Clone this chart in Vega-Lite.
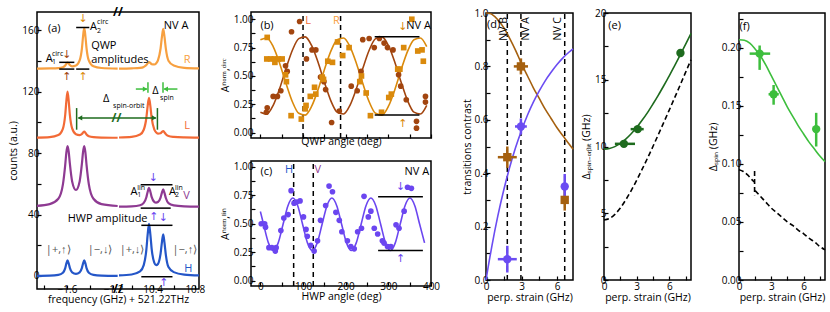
{
"$schema": "https://vega.github.io/schema/vega-lite/v6.json",
"padding": {"left": 8, "top": 5, "right": 2, "bottom": 0},
"spacing": 21,
"resolve": {"scale": {"color": "independent", "shape": "independent"}},
"config": {
 "font": "Open Sans",
 "view": {"stroke": "#000", "strokeWidth": 1.5},
 "axis": {"domain": false, "grid": false, "tickColor": "#000", "tickSize": -4, "tickWidth": 1.2, "labelFontSize": 10, "labelColor": "#000", "titleFontSize": 10.5, "titleFontWeight": "normal", "titleColor": "#000", "labelOverlap": false, "labelFlush": false, "labelFont": "Open Sans", "titleFont": "Open Sans"},
 "axisX": {"labelPadding": -1, "titlePadding": 1},
 "axisY": {"labelPadding": 2, "titlePadding": 3},
 "text": {"font": "Open Sans"}
},
"datasets": {
 "a_spec": [
  {"g":1,"x":-1.86,"R":135.1,"L":90.19,"V":45.7,"H":0.08},
  {"g":1,"x":-1.75,"R":135.2,"L":90.49,"V":46.8,"H":0.2},
  {"g":1,"x":-1.675,"R":135.4,"L":91.8,"V":50.3,"H":0.67},
  {"g":1,"x":-1.635,"R":136.0,"L":96.04,"V":59.7,"H":2.1},
  {"g":1,"x":-1.615,"R":137.1,"L":105.05,"V":72.4,"H":5.14},
  {"g":1,"x":-1.605,"R":138.2,"L":114.06,"V":80.6,"H":8.16},
  {"g":1,"x":-1.595,"R":139.0,"L":120.07,"V":84.6,"H":10.2},
  {"g":1,"x":-1.585,"R":138.4,"L":114.07,"V":81,"H":8.2},
  {"g":1,"x":-1.575,"R":137.4,"L":105.09,"V":73.3,"H":5.25},
  {"g":1,"x":-1.555,"R":136.6,"L":96.12,"V":61.6,"H":2.35},
  {"g":1,"x":-1.522,"R":137.1,"L":92.35,"V":56,"H":1.4},
  {"g":1,"x":-1.49,"R":140.4,"L":91.75,"V":61.6,"H":2.35},
  {"g":1,"x":-1.47,"R":148.3,"L":92.5,"V":73.3,"H":5.25},
  {"g":1,"x":-1.46,"R":156.3,"L":93.43,"V":81,"H":8.2},
  {"g":1,"x":-1.45,"R":161.6,"L":94.07,"V":84.6,"H":10.2},
  {"g":1,"x":-1.44,"R":156.3,"L":93.28,"V":80.6,"H":8.16},
  {"g":1,"x":-1.43,"R":148.3,"L":92.17,"V":72.4,"H":5.14},
  {"g":1,"x":-1.41,"R":140.3,"L":91.03,"V":59.7,"H":2.1},
  {"g":1,"x":-1.37,"R":136.6,"L":90.45,"V":50.3,"H":0.67},
  {"g":1,"x":-1.3,"R":135.5,"L":90.2,"V":46.8,"H":0.22},
  {"g":1,"x":-1.16,"R":135.1,"L":90.07,"V":45.6,"H":0.06},
  {"g":2,"x":10.08,"R":135.1,"L":90.21,"V":45.13,"H":0.34},
  {"g":2,"x":10.2,"R":135.3,"L":90.62,"V":45.35,"H":0.94},
  {"g":2,"x":10.28,"R":135.6,"L":92.12,"V":46.1,"H":2.97},
  {"g":2,"x":10.315,"R":136.2,"L":95.26,"V":47.6,"H":7.07},
  {"g":2,"x":10.34,"R":137.4,"L":103.08,"V":51.3,"H":17.1},
  {"g":2,"x":10.352,"R":138.5,"L":110.56,"V":54.75,"H":26.7},
  {"g":2,"x":10.365,"R":139.4,"L":116.12,"V":57.4,"H":33.9},
  {"g":2,"x":10.378,"R":138.8,"L":110.6,"V":54.9,"H":27.0},
  {"g":2,"x":10.39,"R":138.0,"L":103.17,"V":51.5,"H":17.8},
  {"g":2,"x":10.415,"R":137.8,"L":95.48,"V":48.3,"H":8.7},
  {"g":2,"x":10.432,"R":138.5,"L":93.59,"V":47.8,"H":7.1},
  {"g":2,"x":10.45,"R":140.5,"L":92.78,"V":48.2,"H":7.84},
  {"g":2,"x":10.475,"R":148.2,"L":93.02,"V":51.1,"H":14.6},
  {"g":2,"x":10.488,"R":155.9,"L":93.84,"V":54.3,"H":22.1},
  {"g":2,"x":10.5,"R":161.1,"L":94.38,"V":56.4,"H":27.1},
  {"g":2,"x":10.512,"R":155.9,"L":93.53,"V":54.1,"H":21.7},
  {"g":2,"x":10.525,"R":148.1,"L":92.37,"V":50.8,"H":13.8},
  {"g":2,"x":10.55,"R":140.3,"L":91.17,"V":47.4,"H":5.8},
  {"g":2,"x":10.6,"R":137.1,"L":90.61,"V":46.0,"H":2.5},
  {"g":2,"x":10.7,"R":135.6,"L":90.26,"V":45.35,"H":0.85},
  {"g":2,"x":10.84,"R":135.2,"L":90.12,"V":45.12,"H":0.32}
 ],
 "a_lines": [
  {"x":-1.667,"x2":-1.536,"y":139.2},
  {"x":-1.52,"x2":-1.406,"y":161.9},
  {"x":-1.667,"x2":-1.536,"y":134.8},
  {"x":-1.52,"x2":-1.406,"y":134.8},
  {"x":10.286,"x2":10.588,"y":59.4},
  {"x":10.286,"x2":10.571,"y":44.2},
  {"x":10.292,"x2":10.588,"y":33},
  {"x":10.292,"x2":10.588,"y":-0.5}
 ],
 "a_hg": [
  {"x":-1.50,"x2":10.43,"y":103,"k":"dg"},
  {"x":10.24,"x2":10.345,"y":121.8,"k":"lg"},
  {"x":10.51,"x2":10.635,"y":121.8,"k":"lg"}
 ],
 "a_vg": [
  {"x":-1.516,"y":95.3,"y2":109.4,"k":"dg"},
  {"x":10.445,"y":95.3,"y2":109.4,"k":"dg"},
  {"x":10.355,"y":119.4,"y2":126.3,"k":"lg"},
  {"x":10.498,"y":119.4,"y2":126.3,"k":"lg"}
 ],
 "a_heads": [
  {"x":-1.487,"y":103,"d":"l","k":"dg"},
  {"x":10.414,"y":103,"d":"r","k":"dg"},
  {"x":10.328,"y":121.8,"d":"r","k":"lg"},
  {"x":10.524,"y":121.8,"d":"l","k":"lg"}
 ],
 "a_arr": [
  {"x":-1.6,"y":144,"t":"↓","k":"br"},
  {"x":-1.6,"y":129.4,"t":"↑","k":"br"},
  {"x":-1.46,"y":167.5,"t":"↓","k":"or"},
  {"x":-1.46,"y":129.4,"t":"↑","k":"or"},
  {"x":10.407,"y":64,"t":"↓","k":"vi"},
  {"x":10.41,"y":38.5,"t":"↑","k":"vi"},
  {"x":10.502,"y":37.5,"t":"↓","k":"vi"},
  {"x":10.505,"y":-4.5,"t":"↑","k":"vi"}
 ],
 "a_txt": [
  {"x":-1.765,"y":161,"t":"(a)","k":"k"},
  {"x":10.505,"y":163,"t":"NV A","k":"k"},
  {"x":-1.39,"y":150,"t":"QWP","k":"k"},
  {"x":-1.39,"y":141,"t":"amplitudes","k":"k"},
  {"x":-1.783,"y":141.3,"t":"A","k":"k"},
  {"x":-1.40,"y":162.4,"t":"A","k":"k"},
  {"x":10.695,"y":141,"t":"R","k":"R"},
  {"x":10.70,"y":97.5,"t":"L","k":"L"},
  {"x":10.69,"y":51.8,"t":"V","k":"V"},
  {"x":10.70,"y":4.7,"t":"H","k":"H"},
  {"x":-1.287,"y":115,"t":"Δ","k":"k"},
  {"x":10.397,"y":120.7,"t":"Δ","k":"k"},
  {"x":10.19,"y":54.6,"t":"A","k":"k"},
  {"x":10.555,"y":54.6,"t":"A","k":"k"},
  {"x":-1.594,"y":37.3,"t":"HWP amplitude","k":"k"},
  {"x":-1.783,"y":16.7,"t":"|+,↑⟩","k":"gr"},
  {"x":-1.42,"y":16.7,"t":"|−,↓⟩","k":"gr"},
  {"x":10.086,"y":16.7,"t":"|+,↓⟩","k":"gr"},
  {"x":10.588,"y":16.7,"t":"|−,↑⟩","k":"gr"}
 ],
 "a_small": [
  {"x":-1.73,"y":139.2,"t":"1"},
  {"x":-1.73,"y":144.5,"t":"circ"},
  {"x":-1.339,"y":159.8,"t":"2"},
  {"x":-1.339,"y":165.2,"t":"circ"},
  {"x":-1.2,"y":111,"t":"spin-orbit"},
  {"x":10.47,"y":116,"t":"spin"},
  {"x":10.254,"y":52.5,"t":"1"},
  {"x":10.254,"y":57.4,"t":"lin"},
  {"x":10.612,"y":52.5,"t":"2"},
  {"x":10.612,"y":57.4,"t":"lin"}
 ],
 "a_brk": [
  {"x":-1.157,"y":172,"t":"//","k":"k"},
  {"x":-1.157,"y":-8.5,"t":"//","k":"k"},
  {"x":-1.17,"y":103,"t":"//","k":"dg"}
 ],
 "b_fit": [
  {"x":0,"br":0.181,"or":0.819},{"x":15,"br":0.165,"or":0.835},{"x":30,"br":0.241,"or":0.759},
  {"x":45,"br":0.387,"or":0.613},{"x":60,"br":0.565,"or":0.435},{"x":75,"br":0.727,"or":0.273},
  {"x":90,"br":0.829,"or":0.171},{"x":105,"br":0.845,"or":0.155},{"x":120,"br":0.769,"or":0.231},
  {"x":135,"br":0.623,"or":0.377},{"x":150,"br":0.445,"or":0.555},{"x":165,"br":0.283,"or":0.717},
  {"x":180,"br":0.181,"or":0.819},{"x":195,"br":0.165,"or":0.835},{"x":210,"br":0.241,"or":0.759},
  {"x":225,"br":0.387,"or":0.613},{"x":240,"br":0.565,"or":0.435},{"x":255,"br":0.727,"or":0.273},
  {"x":270,"br":0.829,"or":0.171},{"x":285,"br":0.845,"or":0.155},{"x":300,"br":0.769,"or":0.231},
  {"x":315,"br":0.623,"or":0.377},{"x":330,"br":0.445,"or":0.555},{"x":345,"br":0.283,"or":0.717},
  {"x":360,"br":0.181,"or":0.819},{"x":375,"br":0.165,"or":0.835},{"x":390,"br":0.241,"or":0.759}
 ],
 "b_pts": [
  {"x":16,"y":0.22,"s":"br"},{"x":14,"y":0.18,"s":"br"},{"x":30,"y":0.32,"s":"br"},{"x":40,"y":0.32,"s":"br"},
  {"x":48,"y":0.37,"s":"br"},{"x":59,"y":0.59,"s":"br"},{"x":63,"y":0.54,"s":"br"},{"x":73,"y":0.89,"s":"br"},
  {"x":92,"y":0.98,"s":"br"},{"x":108,"y":0.65,"s":"br"},{"x":121,"y":0.73,"s":"br"},{"x":130,"y":0.73,"s":"br"},
  {"x":141,"y":0.49,"s":"br"},{"x":149,"y":0.45,"s":"br"},{"x":153,"y":0.38,"s":"br"},{"x":167,"y":0.09,"s":"br"},
  {"x":185,"y":0.19,"s":"br"},{"x":213,"y":0.41,"s":"br"},{"x":227,"y":0.37,"s":"br"},{"x":236,"y":0.54,"s":"br"},
  {"x":240,"y":0.82,"s":"br"},{"x":255,"y":0.83,"s":"br"},{"x":267,"y":0.75,"s":"br"},{"x":279,"y":0.83,"s":"br"},
  {"x":290,"y":0.79,"s":"br"},{"x":298,"y":0.75,"s":"br"},{"x":311,"y":0.73,"s":"br"},{"x":324,"y":0.51,"s":"br"},
  {"x":329,"y":0.41,"s":"br"},{"x":342,"y":0.29,"s":"br"},{"x":366,"y":0.10,"s":"br"},{"x":366,"y":0.04,"s":"br"},
  {"x":387,"y":0.32,"s":"br"},{"x":387,"y":0.27,"s":"br"},
  {"x":16,"y":0.84,"s":"or"},{"x":15,"y":0.65,"s":"or"},{"x":24,"y":0.65,"s":"or"},{"x":33,"y":0.65,"s":"or"},
  {"x":42,"y":0.65,"s":"or"},{"x":51,"y":0.65,"s":"or"},{"x":34,"y":0.62,"s":"or"},{"x":59,"y":0.51,"s":"or"},
  {"x":61,"y":0.45,"s":"or"},{"x":72,"y":0.15,"s":"or"},{"x":96,"y":0.12,"s":"or"},{"x":105,"y":0.21,"s":"or"},
  {"x":107,"y":0.24,"s":"or"},{"x":117,"y":0.32,"s":"or"},{"x":127,"y":0.40,"s":"or"},{"x":130,"y":0.34,"s":"or"},
  {"x":145,"y":0.49,"s":"or"},{"x":148,"y":0.47,"s":"or"},{"x":158,"y":0.63,"s":"or"},{"x":169,"y":0.62,"s":"or"},
  {"x":181,"y":0.80,"s":"or"},{"x":193,"y":0.68,"s":"or"},{"x":208,"y":0.75,"s":"or"},{"x":233,"y":0.45,"s":"or"},
  {"x":237,"y":0.50,"s":"or"},{"x":248,"y":0.35,"s":"or"},{"x":258,"y":0.15,"s":"or"},{"x":284,"y":0.18,"s":"or"},
  {"x":301,"y":0.31,"s":"or"},{"x":307,"y":0.34,"s":"or"},{"x":322,"y":0.56,"s":"or"},{"x":327,"y":0.56,"s":"or"},
  {"x":336,"y":0.75,"s":"or"},{"x":355,"y":1.0,"s":"or"},{"x":369,"y":0.72,"s":"or"},{"x":379,"y":0.73,"s":"or"},
  {"x":382,"y":0.63,"s":"or"}
 ],
 "b_vr": [{"x":100,"y":-0.047,"y2":1.064},{"x":188,"y":-0.047,"y2":1.064}],
 "b_lines": [{"x":268,"x2":373,"y":0.845},{"x":268,"x2":373,"y":0.155}],
 "b_arr": [{"x":334,"y":0.93,"t":"↓","k":"or"},{"x":334,"y":0.075,"t":"↑","k":"or"}],
 "b_txt": [
  {"x":0,"y":0.94,"t":"(b)","k":"k"},
  {"x":105,"y":0.985,"t":"L","k":"L"},
  {"x":170,"y":0.985,"t":"R","k":"R"},
  {"x":342,"y":0.94,"t":"NV A","k":"k"}
 ],
 "c_fit": [
  {"x":0,"y":0.607},{"x":7.44,"y":0.495},{"x":18.88,"y":0.332},{"x":30.31,"y":0.265},{"x":41.75,"y":0.332},
  {"x":53.19,"y":0.495},{"x":64.63,"y":0.658},{"x":76.06,"y":0.725},{"x":87.5,"y":0.658},{"x":98.94,"y":0.495},
  {"x":110.38,"y":0.332},{"x":121.81,"y":0.265},{"x":133.25,"y":0.332},{"x":144.69,"y":0.495},{"x":156.13,"y":0.658},
  {"x":167.56,"y":0.725},{"x":179,"y":0.658},{"x":190.44,"y":0.495},{"x":201.88,"y":0.332},{"x":213.31,"y":0.265},
  {"x":224.75,"y":0.332},{"x":236.19,"y":0.495},{"x":247.63,"y":0.658},{"x":259.06,"y":0.725},{"x":270.5,"y":0.658},
  {"x":281.94,"y":0.495},{"x":293.38,"y":0.332},{"x":304.81,"y":0.265},{"x":316.25,"y":0.332},{"x":327.69,"y":0.495},
  {"x":339.13,"y":0.658},{"x":350.56,"y":0.725},{"x":362,"y":0.658},{"x":373.44,"y":0.495},{"x":384.88,"y":0.332}
 ],
 "c_pts": [
  {"x":2,"y":0.50},{"x":10,"y":0.50},{"x":12,"y":0.47},{"x":20,"y":0.29},{"x":27,"y":0.29},{"x":35,"y":0.26},
  {"x":37,"y":0.29},{"x":48,"y":0.44},{"x":55,"y":0.55},{"x":65,"y":0.58},{"x":72,"y":0.79},{"x":79,"y":0.68},
  {"x":85,"y":0.69},{"x":93,"y":0.70},{"x":101,"y":0.56},{"x":107,"y":0.45},{"x":110,"y":0.39},{"x":118,"y":0.31},
  {"x":126,"y":0.26},{"x":134,"y":0.35},{"x":141,"y":0.53},{"x":153,"y":0.66},{"x":161,"y":0.83},{"x":169,"y":0.78},
  {"x":177,"y":0.60},{"x":185,"y":0.53},{"x":191,"y":0.43},{"x":204,"y":0.35},{"x":212,"y":0.30},{"x":220,"y":0.28},
  {"x":228,"y":0.43},{"x":237,"y":0.46},{"x":243,"y":0.74},{"x":253,"y":0.56},{"x":259,"y":0.61},{"x":267,"y":0.46},
  {"x":275,"y":0.41},{"x":286,"y":0.35},{"x":290,"y":0.33},{"x":298,"y":0.30},{"x":306,"y":0.30},{"x":318,"y":0.49},
  {"x":325,"y":0.46},{"x":337,"y":0.61},{"x":345,"y":0.82},{"x":354,"y":0.81}
 ],
 "c_vr": [{"x":78,"y":-0.046,"y2":1.05},{"x":124,"y":-0.046,"y2":1.05}],
 "c_lines": [{"x":276,"x2":381,"y":0.737},{"x":276,"x2":381,"y":0.265}],
 "c_arr": [{"x":329,"y":0.82,"t":"↓"},{"x":329,"y":0.195,"t":"↑"}],
 "c_txt": [
  {"x":0,"y":0.95,"t":"(c)","k":"k"},
  {"x":58,"y":0.97,"t":"H","k":"H"},
  {"x":127,"y":0.97,"t":"V","k":"V"},
  {"x":338,"y":0.95,"t":"NV A","k":"k"}
 ],
 "d_fit": [
  {"x":0,"br":1.0,"bl":0},{"x":0.25,"br":0.999,"bl":0.066},{"x":0.5,"br":0.995,"bl":0.128},{"x":1,"br":0.975,"bl":0.24},
  {"x":1.5,"br":0.945,"bl":0.337},{"x":2,"br":0.905,"bl":0.422},{"x":2.5,"br":0.86,"bl":0.496},{"x":3,"br":0.81,"bl":0.56},
  {"x":3.5,"br":0.765,"bl":0.617},{"x":4,"br":0.72,"bl":0.666},{"x":4.5,"br":0.68,"bl":0.708},{"x":5,"br":0.64,"bl":0.746},
  {"x":5.5,"br":0.605,"bl":0.778},{"x":6,"br":0.57,"bl":0.807},{"x":6.5,"br":0.54,"bl":0.832},{"x":7,"br":0.51,"bl":0.853},
  {"x":7.35,"br":0.49,"bl":0.866}
 ],
 "d_pts": [
  {"x":1.8,"y":0.46,"xlo":1.0,"xhi":2.6,"ylo":0.42,"yhi":0.5,"s":"br"},
  {"x":2.95,"y":0.80,"xlo":2.35,"xhi":3.55,"ylo":0.77,"yhi":0.83,"s":"br"},
  {"x":6.65,"y":0.30,"xlo":6.65,"xhi":6.65,"ylo":0.26,"yhi":0.34,"s":"br"},
  {"x":1.8,"y":0.078,"xlo":1.0,"xhi":2.6,"ylo":0.028,"yhi":0.128,"s":"bl"},
  {"x":2.95,"y":0.575,"xlo":2.45,"xhi":3.45,"ylo":0.545,"yhi":0.605,"s":"bl"},
  {"x":6.65,"y":0.35,"xlo":6.65,"xhi":6.65,"ylo":0.303,"yhi":0.397,"s":"bl"}
 ],
 "d_vr": [{"x":1.8,"y":0,"y2":1},{"x":2.95,"y":0,"y2":1},{"x":6.65,"y":0,"y2":1}],
 "d_txt": [{"x":0.08,"y":0.955,"t":"(d)"}],
 "d_rot": [{"x":1.5,"y":0.985,"t":"NV B"},{"x":3.4,"y":0.985,"t":"NV A"},{"x":6.05,"y":0.985,"t":"NV C"}],
 "e_fit": [
  {"x":0,"g":9.80,"d":4.5},{"x":0.5,"g":9.85,"d":4.61},{"x":1,"g":9.99,"d":4.92},{"x":1.5,"g":10.23,"d":5.39},
  {"x":2,"g":10.55,"d":6.0},{"x":2.5,"g":10.95,"d":6.70},{"x":3,"g":11.42,"d":7.46},{"x":3.5,"g":11.96,"d":8.28},
  {"x":4,"g":12.54,"d":9.13},{"x":4.5,"g":13.18,"d":10.0},{"x":5,"g":13.85,"d":10.9},{"x":5.5,"g":14.56,"d":11.81},
  {"x":6,"g":15.29,"d":12.73},{"x":6.5,"g":16.06,"d":13.66},{"x":7,"g":16.84,"d":14.6},{"x":7.5,"g":17.65,"d":15.55},
  {"x":8,"g":18.47,"d":16.5}
 ],
 "e_pts": [
  {"x":1.83,"y":10.2,"xlo":1.0,"xhi":2.85},
  {"x":3.1,"y":11.3,"xlo":2.45,"xhi":3.65},
  {"x":7.03,"y":17.0,"xlo":7.03,"xhi":7.03}
 ],
 "e_txt": [{"x":0.4,"y":19.0,"t":"(e)"}],
 "f_fit": [
  {"x":0,"y":0.207},{"x":0.5,"y":0.2065},{"x":1,"y":0.204},{"x":1.5,"y":0.199},{"x":2,"y":0.193},{"x":2.5,"y":0.185},
  {"x":3,"y":0.176},{"x":3.5,"y":0.167},{"x":4,"y":0.158},{"x":4.5,"y":0.149},{"x":5,"y":0.141},{"x":5.5,"y":0.133},
  {"x":6,"y":0.126},{"x":6.5,"y":0.119},{"x":7,"y":0.113},{"x":7.5,"y":0.107},{"x":8,"y":0.102}
 ],
 "f_dash": [
  {"x":0,"y":0.095,"seg":1},{"x":0.4,"y":0.0935,"seg":1},{"x":0.8,"y":0.0905,"seg":1},{"x":1.2,"y":0.0865,"seg":1},{"x":1.4,"y":0.0845,"seg":1},
  {"x":1.45,"y":0.094,"seg":2},{"x":1.45,"y":0.073,"seg":2},
  {"x":1.5,"y":0.077,"seg":3},{"x":2,"y":0.072,"seg":3},{"x":2.5,"y":0.067,"seg":3},{"x":3,"y":0.062,"seg":3},
  {"x":3.5,"y":0.058,"seg":3},{"x":4,"y":0.054,"seg":3},{"x":4.5,"y":0.05,"seg":3},{"x":5,"y":0.047,"seg":3},
  {"x":5.5,"y":0.043,"seg":3},{"x":6,"y":0.04,"seg":3},{"x":6.5,"y":0.036,"seg":3},{"x":7,"y":0.033,"seg":3},
  {"x":7.5,"y":0.029,"seg":3},{"x":8,"y":0.026,"seg":3}
 ],
 "f_pts": [
  {"x":1.92,"y":0.195,"xlo":0.99,"xhi":2.9,"ylo":0.181,"yhi":0.202},
  {"x":3.22,"y":0.160,"xlo":2.75,"xhi":3.7,"ylo":0.151,"yhi":0.168},
  {"x":7.18,"y":0.130,"xlo":7.18,"xhi":7.18,"ylo":0.115,"yhi":0.144}
 ],
 "f_txt": [{"x":0.05,"y":0.218,"t":"(f)"}],
 "empty": []
},
"hconcat": [
 {
  "spacing": 13,
  "resolve": {"scale": {"color": "independent", "shape": "independent"}},
  "hconcat": [
   {
    "width": 162, "height": 277,
    "encoding": {
     "x": {"field": "x", "type": "quantitative", "scale": {"domain": [-1.86, -1.157, 10.08, 10.84], "range": [0, 81, 82, 162], "nice": false, "zero": false},
           "axis": {"values": [-1.8, -1.6, -1.4, -1.2, 10.2, 10.4, 10.6, 10.8], "labelExpr": "(datum.value == -1.6 || datum.value == -1.2 || datum.value == 10.4 || datum.value == 10.8) ? format(datum.value, '.1f') : ''", "title": "frequency  (GHz) + 521.22THz", "titlePadding": 0}},
     "y": {"field": "y", "type": "quantitative", "scale": {"domain": [-8.5, 172], "nice": false, "zero": false},
           "axis": {"values": [0, 20, 40, 60, 80, 100, 120, 140, 160], "labelExpr": "datum.value % 40 == 0 ? format(datum.value, 'd') : ''", "title": "counts (a.u.)"}}
    },
    "layer": [
     {"data": {"name": "a_spec"}, "transform": [{"fold": ["R", "L", "V", "H"], "as": ["s", "y"]}],
      "mark": {"type": "line", "strokeWidth": 2.2, "interpolate": "monotone"},
      "encoding": {"color": {"field": "s", "type": "nominal", "legend": null, "scale": {"domain": ["R","L","V","H","k","br","or","vi","dg","lg","gr"], "range": ["#F7A040","#F26A36","#8E3A92","#2456C8","#000000","#A2450F","#DA8A0C","#6B46F0","#1E6B1E","#3DBE3D","#555555"]}}, "detail": {"field": "g"}}},
     {"data": {"name": "a_lines"}, "mark": {"type": "rule", "strokeWidth": 1.5, "color": "#000"}, "encoding": {"x2": {"field": "x2"}}},
     {"data": {"name": "a_hg"}, "mark": {"type": "rule", "strokeWidth": 1.5},
      "encoding": {"x2": {"field": "x2"}, "color": {"field": "k", "type": "nominal", "legend": null, "scale": {"domain": ["R","L","V","H","k","br","or","vi","dg","lg","gr"], "range": ["#F7A040","#F26A36","#8E3A92","#2456C8","#000000","#A2450F","#DA8A0C","#6B46F0","#1E6B1E","#3DBE3D","#555555"]}}}},
     {"data": {"name": "a_vg"}, "mark": {"type": "rule", "strokeWidth": 1.5},
      "encoding": {"y2": {"field": "y2"}, "color": {"field": "k", "type": "nominal", "legend": null, "scale": {"domain": ["R","L","V","H","k","br","or","vi","dg","lg","gr"], "range": ["#F7A040","#F26A36","#8E3A92","#2456C8","#000000","#A2450F","#DA8A0C","#6B46F0","#1E6B1E","#3DBE3D","#555555"]}}}},
     {"data": {"name": "a_heads"}, "mark": {"type": "point", "filled": true, "size": 28, "opacity": 1},
      "encoding": {"shape": {"field": "d", "type": "nominal", "legend": null, "scale": {"domain": ["l", "r"], "range": ["triangle-left", "triangle-right"]}},
                   "color": {"field": "k", "type": "nominal", "legend": null, "scale": {"domain": ["R","L","V","H","k","br","or","vi","dg","lg","gr"], "range": ["#F7A040","#F26A36","#8E3A92","#2456C8","#000000","#A2450F","#DA8A0C","#6B46F0","#1E6B1E","#3DBE3D","#555555"]}}}},
     {"data": {"name": "a_arr"}, "mark": {"type": "text", "font": "DejaVu Sans", "fontSize": 11, "align": "center", "baseline": "middle"},
      "encoding": {"text": {"field": "t"}, "color": {"field": "k", "type": "nominal", "legend": null, "scale": {"domain": ["R","L","V","H","k","br","or","vi","dg","lg","gr"], "range": ["#F7A040","#F26A36","#8E3A92","#2456C8","#000000","#A2450F","#DA8A0C","#6B46F0","#1E6B1E","#3DBE3D","#555555"]}}}},
     {"data": {"name": "a_txt"}, "mark": {"type": "text", "fontSize": 11, "align": "left", "baseline": "middle"},
      "encoding": {"text": {"field": "t"}, "color": {"field": "k", "type": "nominal", "legend": null, "scale": {"domain": ["R","L","V","H","k","br","or","vi","dg","lg","gr"], "range": ["#F7A040","#F26A36","#8E3A92","#2456C8","#000000","#A2450F","#DA8A0C","#6B46F0","#1E6B1E","#3DBE3D","#555555"]}}}},
     {"data": {"name": "a_small"}, "mark": {"type": "text", "fontSize": 7, "align": "left", "baseline": "middle", "color": "#000"},
      "encoding": {"text": {"field": "t"}}},
     {"data": {"name": "a_brk"}, "mark": {"type": "text", "fontSize": 12, "fontWeight": "bold", "align": "center", "baseline": "middle"},
      "encoding": {"text": {"field": "t"}, "color": {"field": "k", "type": "nominal", "legend": null, "scale": {"domain": ["R","L","V","H","k","br","or","vi","dg","lg","gr"], "range": ["#F7A040","#F26A36","#8E3A92","#2456C8","#000000","#A2450F","#DA8A0C","#6B46F0","#1E6B1E","#3DBE3D","#555555"]}}}}
    ]
   },
   {
    "spacing": 11,
    "resolve": {"scale": {"color": "independent", "shape": "independent"}},
    "vconcat": [
     {
      "width": 180, "height": 126,
      "encoding": {
       "x": {"field": "x", "type": "quantitative", "scale": {"domain": [-22, 400], "nice": false, "zero": false},
             "axis": {"values": [0, 50, 100, 150, 200, 250, 300, 350, 400], "labels": false, "title": "QWP angle (deg)", "titlePadding": -2}},
       "y": {"field": "y", "type": "quantitative", "scale": {"domain": [-0.047, 1.064], "nice": false, "zero": false},
             "axis": {"values": [0, 0.125, 0.25, 0.375, 0.5, 0.625, 0.75, 0.875, 1.0], "labelExpr": "datum.value * 4 == round(datum.value * 4) ? format(datum.value, '.2f') : ''", "title": "Aⁿᵒʳᵐ,ᶜⁱʳᶜ"}}
      },
      "layer": [
       {"data": {"name": "b_vr"}, "mark": {"type": "rule", "strokeWidth": 1.5, "strokeDash": [5, 4], "color": "#000"}, "encoding": {"y2": {"field": "y2"}}},
       {"data": {"name": "b_fit"}, "transform": [{"fold": ["br", "or"], "as": ["s", "y"]}], "mark": {"type": "line", "strokeWidth": 1.6, "interpolate": "monotone"},
        "encoding": {"color": {"field": "s", "type": "nominal", "legend": null, "scale": {"domain": ["br","or","k","L","R"], "range": ["#A2450F","#DA8A0C","#000000","#F26A36","#F7A040"]}}}},
       {"data": {"name": "b_pts"}, "mark": {"type": "point", "filled": true, "size": 32, "opacity": 1},
        "encoding": {"color": {"field": "s", "type": "nominal", "legend": null, "scale": {"domain": ["br","or","k","L","R"], "range": ["#A2450F","#DA8A0C","#000000","#F26A36","#F7A040"]}},
                     "shape": {"field": "s", "type": "nominal", "legend": null, "scale": {"domain": ["br", "or"], "range": ["circle", "square"]}}}},
       {"data": {"name": "b_lines"}, "mark": {"type": "rule", "strokeWidth": 1.5, "color": "#000"}, "encoding": {"x2": {"field": "x2"}}},
       {"data": {"name": "b_arr"}, "mark": {"type": "text", "font": "DejaVu Sans", "fontSize": 11, "align": "center", "baseline": "middle"},
        "encoding": {"text": {"field": "t"}, "color": {"field": "k", "type": "nominal", "legend": null, "scale": {"domain": ["br","or","k","L","R"], "range": ["#A2450F","#DA8A0C","#000000","#F26A36","#F7A040"]}}}},
       {"data": {"name": "b_txt"}, "mark": {"type": "text", "fontSize": 11, "align": "left", "baseline": "middle"},
        "encoding": {"text": {"field": "t"}, "color": {"field": "k", "type": "nominal", "legend": null, "scale": {"domain": ["br","or","k","L","R"], "range": ["#A2450F","#DA8A0C","#000000","#F26A36","#F7A040"]}}}}
      ]
     },
     {
      "width": 180, "height": 125,
      "encoding": {
       "x": {"field": "x", "type": "quantitative", "scale": {"domain": [-22, 400], "nice": false, "zero": false},
             "axis": {"values": [0, 50, 100, 150, 200, 250, 300, 350, 400], "labelExpr": "datum.value % 100 == 0 ? format(datum.value, 'd') : ''", "title": "HWP angle (deg)", "titlePadding": 0}},
       "y": {"field": "y", "type": "quantitative", "scale": {"domain": [-0.046, 1.05], "nice": false, "zero": false},
             "axis": {"values": [0, 0.125, 0.25, 0.375, 0.5, 0.625, 0.75, 0.875, 1.0], "labelExpr": "datum.value * 4 == round(datum.value * 4) ? format(datum.value, '.2f') : ''", "title": "Aⁿᵒʳᵐ,ˡⁱⁿ"}}
      },
      "layer": [
       {"data": {"name": "c_vr"}, "mark": {"type": "rule", "strokeWidth": 1.5, "strokeDash": [5, 4], "color": "#000"}, "encoding": {"y2": {"field": "y2"}}},
       {"data": {"name": "c_fit"}, "mark": {"type": "line", "strokeWidth": 1.6, "interpolate": "monotone", "color": "#6B46F0"}},
       {"data": {"name": "c_pts"}, "mark": {"type": "circle", "size": 32, "opacity": 1, "color": "#6B46F0"}},
       {"data": {"name": "c_lines"}, "mark": {"type": "rule", "strokeWidth": 1.5, "color": "#000"}, "encoding": {"x2": {"field": "x2"}}},
       {"data": {"name": "c_arr"}, "mark": {"type": "text", "font": "DejaVu Sans", "fontSize": 11, "align": "center", "baseline": "middle", "color": "#6B46F0"},
        "encoding": {"text": {"field": "t"}}},
       {"data": {"name": "c_txt"}, "mark": {"type": "text", "fontSize": 11, "align": "left", "baseline": "middle"},
        "encoding": {"text": {"field": "t"}, "color": {"field": "k", "type": "nominal", "legend": null, "scale": {"domain": ["k","H","V"], "range": ["#000000","#2456C8","#8E3A92"]}}}}
      ]
     }
    ]
   }
  ]
 },
 {
  "spacing": -6,
  "resolve": {"scale": {"color": "independent", "shape": "independent"}},
  "vconcat": [
   {"width": 10, "height": 1, "view": {"stroke": null}, "data": {"name": "empty"}, "mark": {"type": "text"}, "encoding": {}},
   {
    "spacing": 12,
    "resolve": {"scale": {"color": "independent", "shape": "independent"}},
    "hconcat": [
     {
      "spacing": 3,
      "resolve": {"scale": {"color": "independent", "shape": "independent"}},
      "hconcat": [
       {
        "width": 87, "height": 267,
        "encoding": {
         "x": {"field": "x", "type": "quantitative", "scale": {"domain": [0, 7.35], "nice": false, "zero": false},
               "axis": {"values": [0, 1.5, 3, 4.5, 6], "labelExpr": "datum.value % 3 == 0 ? format(datum.value, 'd') : ''", "title": "perp. strain (GHz)", "labelPadding": 5, "titlePadding": 1}},
         "y": {"field": "y", "type": "quantitative", "scale": {"domain": [0, 1], "nice": false},
               "axis": {"values": [0, 0.1, 0.2, 0.3, 0.4, 0.5, 0.6, 0.7, 0.8, 0.9, 1.0], "labelExpr": "round(datum.value * 10) % 2 == 0 ? format(datum.value, '.1f') : ''", "title": "transitions contrast", "titlePadding": 1}}
        },
        "layer": [
         {"data": {"name": "d_vr"}, "mark": {"type": "rule", "strokeWidth": 1.5, "strokeDash": [5, 4], "color": "#000"}, "encoding": {"y2": {"field": "y2"}}},
         {"data": {"name": "d_fit"}, "transform": [{"fold": ["br", "bl"], "as": ["s", "y"]}], "mark": {"type": "line", "strokeWidth": 1.6, "interpolate": "monotone"},
          "encoding": {"color": {"field": "s", "type": "nominal", "legend": null, "scale": {"domain": ["br", "bl"], "range": ["#A5600F", "#6B4CF2"]}}}},
         {"data": {"name": "d_pts"}, "mark": {"type": "rule", "strokeWidth": 2.5},
          "encoding": {"x": {"field": "xlo"}, "x2": {"field": "xhi"}, "color": {"field": "s", "type": "nominal", "legend": null, "scale": {"domain": ["br", "bl"], "range": ["#A5600F", "#6B4CF2"]}}}},
         {"data": {"name": "d_pts"}, "mark": {"type": "rule", "strokeWidth": 2.5},
          "encoding": {"y": {"field": "ylo"}, "y2": {"field": "yhi"}, "color": {"field": "s", "type": "nominal", "legend": null, "scale": {"domain": ["br", "bl"], "range": ["#A5600F", "#6B4CF2"]}}}},
         {"data": {"name": "d_pts"}, "mark": {"type": "point", "filled": true, "size": 70, "opacity": 1},
          "encoding": {"color": {"field": "s", "type": "nominal", "legend": null, "scale": {"domain": ["br", "bl"], "range": ["#A5600F", "#6B4CF2"]}},
                       "shape": {"field": "s", "type": "nominal", "legend": null, "scale": {"domain": ["br", "bl"], "range": ["square", "circle"]}}}},
         {"data": {"name": "d_txt"}, "mark": {"type": "text", "fontSize": 11, "align": "left", "baseline": "middle", "color": "#000"}, "encoding": {"text": {"field": "t"}}},
         {"data": {"name": "d_rot"}, "mark": {"type": "text", "fontSize": 10.5, "angle": 270, "align": "right", "baseline": "middle", "color": "#000"}, "encoding": {"text": {"field": "t"}}}
        ]
       },
       {
        "width": 87, "height": 267,
        "encoding": {
         "x": {"field": "x", "type": "quantitative", "scale": {"domain": [0, 8], "nice": false, "zero": false},
               "axis": {"values": [0, 1.5, 3, 4.5, 6, 7.5], "labelExpr": "datum.value % 3 == 0 ? format(datum.value, 'd') : ''", "title": "perp. strain (GHz)", "labelPadding": 5, "titlePadding": 1}},
         "y": {"field": "y", "type": "quantitative", "scale": {"domain": [0, 20], "nice": false},
               "axis": {"values": [0, 2.5, 5, 7.5, 10, 12.5, 15, 17.5, 20], "labelExpr": "datum.value % 5 == 0 ? format(datum.value, 'd') : ''", "title": "Δₛₚᵢₙ₋ₒᵣᵦᵢₜ (GHz)"}}
        },
        "layer": [
         {"data": {"name": "e_fit"}, "mark": {"type": "line", "strokeWidth": 1.6, "strokeDash": [5, 3], "color": "#000", "interpolate": "monotone"}, "encoding": {"y": {"field": "d"}}},
         {"data": {"name": "e_fit"}, "mark": {"type": "line", "strokeWidth": 1.6, "color": "#1E6B1E", "interpolate": "monotone"}, "encoding": {"y": {"field": "g"}}},
         {"data": {"name": "e_pts"}, "mark": {"type": "rule", "strokeWidth": 2.5, "color": "#1E6B1E"}, "encoding": {"x": {"field": "xlo"}, "x2": {"field": "xhi"}}},
         {"data": {"name": "e_pts"}, "mark": {"type": "circle", "size": 70, "opacity": 1, "color": "#1E6B1E"}},
         {"data": {"name": "e_txt"}, "mark": {"type": "text", "fontSize": 11, "align": "left", "baseline": "middle", "color": "#000"}, "encoding": {"text": {"field": "t"}}}
        ]
       }
      ]
     },
     {
      "width": 86, "height": 267,
      "encoding": {
       "x": {"field": "x", "type": "quantitative", "scale": {"domain": [0, 8], "nice": false, "zero": false},
             "axis": {"values": [0, 1.5, 3, 4.5, 6, 7.5], "labelExpr": "datum.value % 3 == 0 ? format(datum.value, 'd') : ''", "title": "perp. strain (GHz)", "labelPadding": 5, "titlePadding": 1}},
       "y": {"field": "y", "type": "quantitative", "scale": {"domain": [0, 0.23], "nice": false},
             "axis": {"values": [0, 0.025, 0.05, 0.075, 0.1, 0.125, 0.15, 0.175, 0.2, 0.225], "labelExpr": "round(datum.value * 1000) % 50 == 0 ? format(datum.value, '.2f') : ''", "title": "Δₛₚᵢₙ (GHz)"}}
      },
      "layer": [
       {"data": {"name": "f_dash"}, "mark": {"type": "line", "strokeWidth": 1.6, "strokeDash": [5, 3], "color": "#000", "interpolate": "monotone"}, "encoding": {"detail": {"field": "seg"}}},
       {"data": {"name": "f_fit"}, "mark": {"type": "line", "strokeWidth": 1.6, "color": "#3DBE3D", "interpolate": "monotone"}},
       {"data": {"name": "f_pts"}, "mark": {"type": "rule", "strokeWidth": 2.5, "color": "#3DBE3D"}, "encoding": {"x": {"field": "xlo"}, "x2": {"field": "xhi"}}},
       {"data": {"name": "f_pts"}, "mark": {"type": "rule", "strokeWidth": 2.5, "color": "#3DBE3D"}, "encoding": {"y": {"field": "ylo"}, "y2": {"field": "yhi"}}},
       {"data": {"name": "f_pts"}, "mark": {"type": "circle", "size": 70, "opacity": 1, "color": "#3DBE3D"}},
       {"data": {"name": "f_txt"}, "mark": {"type": "text", "fontSize": 11, "align": "left", "baseline": "middle", "color": "#000"}, "encoding": {"text": {"field": "t"}}}
      ]
     }
    ]
   }
  ]
 }
]
}
